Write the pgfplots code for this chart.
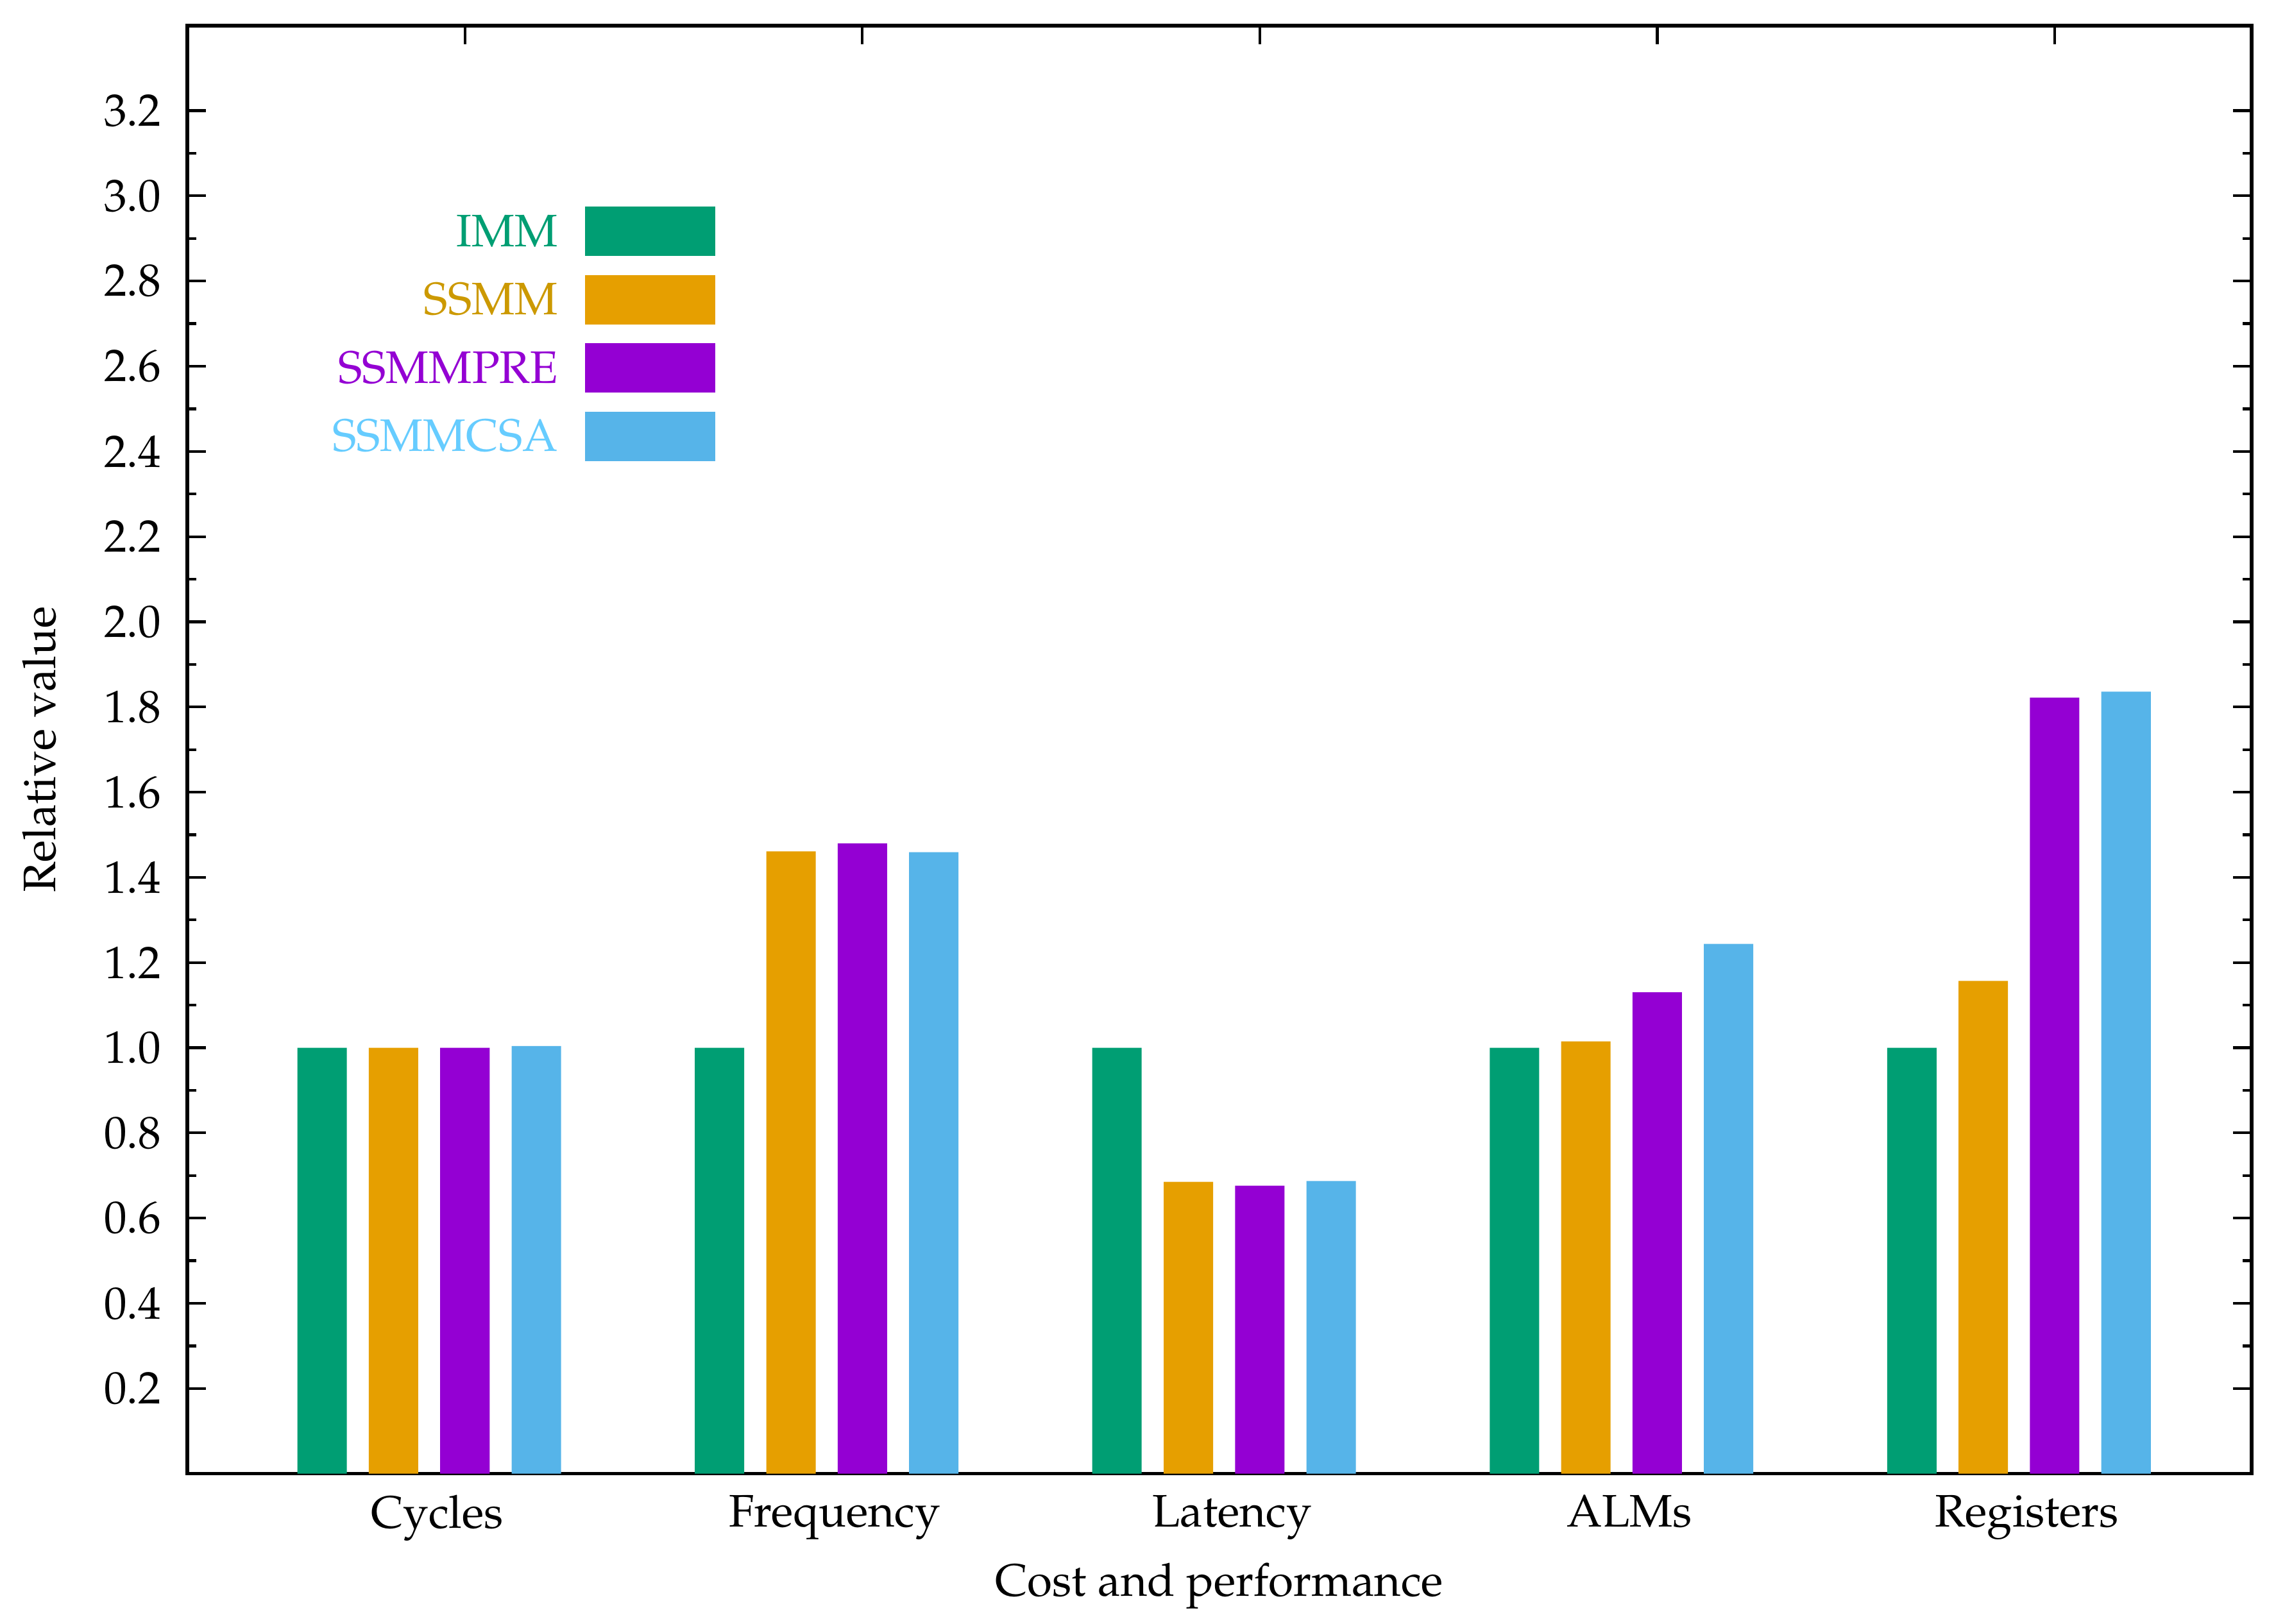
\documentclass[border=0pt]{standalone}
\usepackage[T1]{fontenc}
\usepackage{mathpazo}
\usepackage{xcolor}
\usepackage{pgfplots}
\usepackage{pgfplotstable}
\pgfplotsset{compat=1.18}

\definecolor{immc}{HTML}{009E73}
\definecolor{ssmmc}{HTML}{E69F00}
\definecolor{prec}{HTML}{9400D3}
\definecolor{csac}{HTML}{56B4E9}
\definecolor{ssmmtxt}{HTML}{CC9900}
\definecolor{csatxt}{HTML}{66CCFF}

% relative cost / performance, IMM = 1
\pgfplotstableread{
x imm ssmm pre csa
0 1.000 1.000 1.000 1.004
1 1.000 1.461 1.480 1.459
2 1.000 0.685 0.676 0.687
3 1.000 1.015 1.130 1.244
4 1.000 1.157 1.822 1.836
}\rel

\begin{document}
\begin{tikzpicture}
\begin{axis}[
    scale only axis,
    width=453.2pt, height=318pt,
    xmin=-0.609, xmax=4.585,
    ymin=0, ymax=3.4,
    clip=false,
    ybar, bar width=0.1243,
    axis line style={line width=0.8pt},
    every tick/.style={black, line width=0.6pt},
    tick align=inside,
    major tick length=4.1pt, minor tick length=2pt,
    xtick={0.0898,1.0898,2.0898,3.0898,4.0898},
    xticklabels={Cycles,Frequency,Latency,ALMs,Registers},
    xtick pos=right, xticklabel pos=left,
    xticklabel style={xshift=-6.1pt, yshift=-1.2pt},
    ytick={0.2,0.4,0.6,0.8,1.0,1.2,1.4,1.6,1.8,2.0,2.2,2.4,2.6,2.8,3.0,3.2},
    minor ytick={0.3,0.5,0.7,0.9,1.1,1.3,1.5,1.7,1.9,2.1,2.3,2.5,2.7,2.9,3.1},
    yticklabel style={xshift=-2.2pt, /pgf/number format/.cd, fixed, fixed zerofill, precision=1},
    xlabel={Cost and performance},
    ylabel={Relative value},
    xlabel style={at={(axis description cs:0.5,-0.0775)}, anchor=center},
    ylabel style={at={(axis description cs:-0.0717,0.5)}, anchor=center},
    legend plot pos=right,
    legend cell align=right,
    legend image code/.code={\fill[#1] (0pt,-5.425pt) rectangle (28.7pt,5.425pt);},
    legend style={draw=none, fill=none, inner sep=0pt,
        row sep=4.15pt, column sep=5.9pt,
        nodes={inner sep=0pt, yshift=-0.6pt},
        at={(axis description cs:0.2564,0.8755)}, anchor=north east},
]
\addplot[fill=immc, draw=none, bar shift=-0.2695] table[x=x, y=imm] {\rel};
\addlegendentry{\textcolor{immc}{IMM}}
\addplot[fill=ssmmc, draw=none, bar shift=-0.0898] table[x=x, y=ssmm] {\rel};
\addlegendentry{\textcolor{ssmmtxt}{SSMM}}
\addplot[fill=prec, draw=none, bar shift=0.0898] table[x=x, y=pre] {\rel};
\addlegendentry{\textcolor{prec}{SSMMPRE}}
\addplot[fill=csac, draw=none, bar shift=0.2695] table[x=x, y=csa] {\rel};
\addlegendentry{\textcolor{csatxt}{SSMMCSA}}
\path ([shift={(-41.1pt,-32.4pt)}]rel axis cs:0,0) rectangle ([shift={(5.4pt,5.6pt)}]rel axis cs:1,1);
\end{axis}
\end{tikzpicture}
\end{document}
